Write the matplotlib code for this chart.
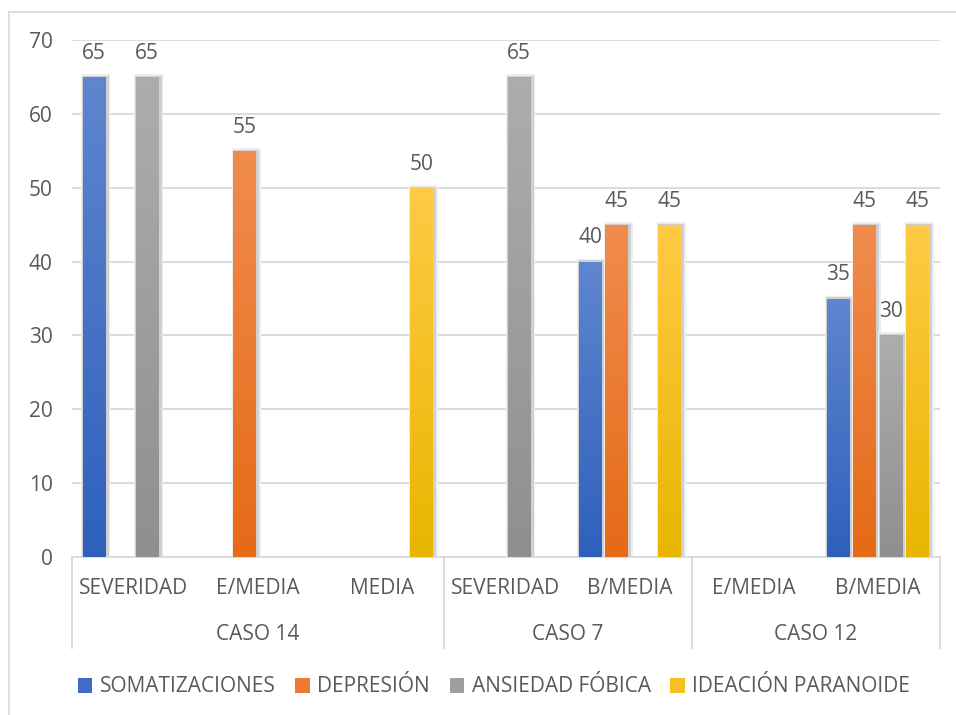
import numpy as np
import matplotlib.pyplot as plt
from matplotlib.patches import Rectangle, Patch
from matplotlib.colors import LinearSegmentedColormap
import matplotlib.transforms as mtransforms

plt.rcParams['font.family'] = ['Open Sans', 'DejaVu Sans']

categories = ["SEVERIDAD", "E/MEDIA", "MEDIA", "SEVERIDAD", "B/MEDIA", "E/MEDIA", "B/MEDIA"]
groups = ["CASO 14", "CASO 7", "CASO 12"]
group_sizes = [3, 2, 2]
series = ["SOMATIZACIONES", "DEPRESIÓN", "ANSIEDAD FÓBICA", "IDEACIÓN PARANOIDE"]
somatizaciones = [65, 0, 0, 0, 40, 0, 35]
depresion = [0, 55, 0, 0, 45, 0, 45]
ansiedad = [65, 0, 0, 65, 0, 0, 30]
ideacion = [0, 0, 50, 0, 45, 0, 45]
values = [somatizaciones, depresion, ansiedad, ideacion]

# (top colour, bottom colour) for the gradient fill
grad = [("#5F86CF", "#2E60BC"),
        ("#F18C4E", "#E56A17"),
        ("#ADADAD", "#8F8F8F"),
        ("#FFCA45", "#E8B600")]
txt = "#595959"
fs = 15

fig = plt.figure(figsize=(9.56, 7.15), dpi=100)
W, H = 956, 715
ax = fig.add_axes([72 / W, (H - 557) / H, 868 / W, 517 / H])

# outer chart border
fig.add_artist(plt.Line2D([9 / W, 9 / W], [0, 1 - 12 / H], color="#D9D9D9", lw=1.2))
fig.add_artist(plt.Line2D([9 / W, 1], [1 - 12 / H, 1 - 12 / H], color="#D9D9D9", lw=1.2))

x = np.arange(len(categories))
slot = 0.214
bw = 0.185
ax.set_xlim(-0.5, len(categories) - 0.5)
ax.set_ylim(0, 70)

for i, vals in enumerate(values):
    cmap = LinearSegmentedColormap.from_list("g%d" % i, [grad[i][1], grad[i][0]])
    for xi, v in zip(x, vals):
        if v <= 0:
            continue
        x0 = xi + (i - 1.5) * slot - bw / 2
        # soft shadow
        ax.add_patch(Rectangle((x0 - 0.014, 0), bw + 0.05, v + 0.4,
                               facecolor="#EEEEEE", edgecolor="none", zorder=2))
        ax.add_patch(Rectangle((x0 - 0.006, 0), bw + 0.032, v + 0.15,
                               facecolor="#D0D0D0", edgecolor="none", zorder=2))
        rect = Rectangle((x0, 0), bw, v, facecolor="none", edgecolor="none", zorder=3)
        ax.add_patch(rect)
        g = np.linspace(0, 1, 256).reshape(-1, 1)
        im = ax.imshow(g, cmap=cmap, origin="lower", aspect="auto",
                       extent=(x0, x0 + bw, 0, v), zorder=3)
        im.set_clip_path(rect)
        ax.annotate(str(v), (x0 + bw / 2, v), xytext=(0, 17), textcoords="offset points",
                    ha="center", va="center", fontsize=fs, color=txt)

ax.set_xlim(-0.5, len(categories) - 0.5)
ax.set_ylim(0, 70)
ax.set_yticks(range(0, 71, 10))
ax.yaxis.grid(True, color="#D9D9D9", lw=1.3)
ax.set_axisbelow(True)
ax.tick_params(axis="y", length=0, pad=14, labelsize=fs, labelcolor=txt)
ax.set_xticks([])
for s in ["top", "right", "left"]:
    ax.spines[s].set_visible(False)
ax.spines["bottom"].set_color("#D9D9D9")
ax.spines["bottom"].set_linewidth(1.3)

trans = mtransforms.blended_transform_factory(ax.transData, ax.transAxes)
for xi, c in zip(x, categories):
    ax.text(xi, -0.061, c, transform=trans, ha="center", va="center",
            fontsize=fs, color=txt)

start = 0
bounds = [-0.5]
for gname, n in zip(groups, group_sizes):
    mid = start + (n - 1) / 2
    ax.text(mid, -0.15, gname, transform=trans, ha="center", va="center",
            fontsize=fs, color=txt)
    start += n
    bounds.append(start - 0.5)
for b in bounds:
    ax.plot([b, b], [0, -0.176], transform=trans, color="#D9D9D9", lw=1.3, clip_on=False)

handles = [Patch(facecolor=c, edgecolor="none") for c in ["#3F6DC5", "#EC7A33", "#9E9E9E", "#F6C020"]]
leg = fig.legend(handles, series, loc="center", bbox_to_anchor=(494 / W, 1 - 687 / H),
                 ncol=4, frameon=False, handlelength=0.7, handleheight=0.7,
                 handletextpad=0.35, columnspacing=0.95, fontsize=fs)
for t in leg.get_texts():
    t.set_color(txt)

fig.savefig("out.png", dpi=100)
